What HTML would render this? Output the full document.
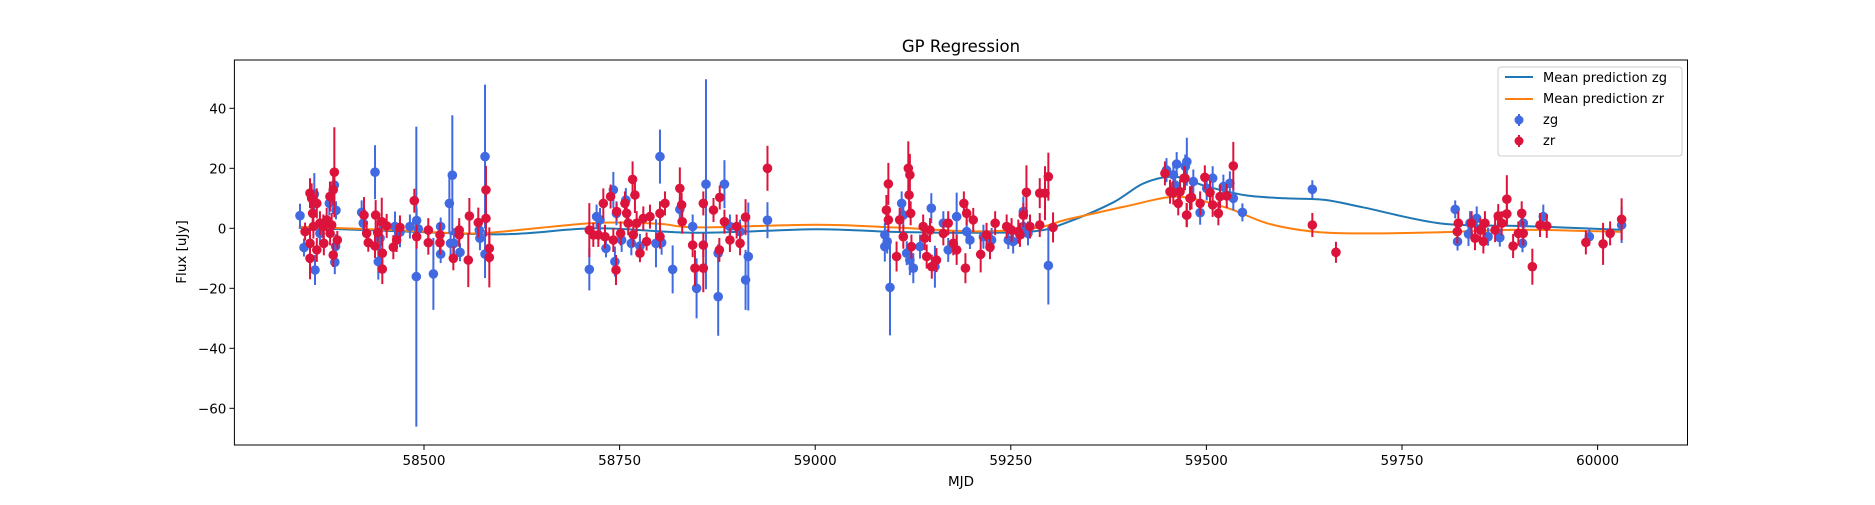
<!DOCTYPE html>
<html><head><meta charset="utf-8"><style>
body{margin:0;background:#fff}
svg text{font-family:"DejaVu Sans","Liberation Sans",sans-serif;fill:#000}
</style></head><body>
<svg id="chart" width="1875" height="500" viewBox="0 0 1875 500" xmlns="http://www.w3.org/2000/svg">
<rect width="1875" height="500" fill="#fff"/>
<text x="961" y="52" font-size="16.5" text-anchor="middle">GP Regression</text>
<g id="plot"></g>
<g id="axes"></g>
<text x="961" y="486" font-size="13.5" text-anchor="middle">MJD</text>
<text transform="translate(186,252) rotate(-90)" font-size="13.5" text-anchor="middle">Flux [uJy]</text>
<g>
<rect x="1498" y="67" width="184" height="89" rx="3" fill="#fff" fill-opacity="0.8" stroke="#ccc"/>
<line x1="1505" y1="77" x2="1533" y2="77" stroke="#1f77b4" stroke-width="2"/>
<text x="1543" y="82" font-size="13">Mean prediction zg</text>
<line x1="1505" y1="99" x2="1533" y2="99" stroke="#ff7f0e" stroke-width="2"/>
<text x="1543" y="103" font-size="13">Mean prediction zr</text>
<line x1="1519" y1="114" x2="1519" y2="126" stroke="#4169e1" stroke-width="2"/>
<circle cx="1519" cy="120" r="4.5" fill="#4169e1"/>
<text x="1543" y="124" font-size="13">zg</text>
<line x1="1519" y1="135" x2="1519" y2="147" stroke="#dc143c" stroke-width="2"/>
<circle cx="1519" cy="141" r="4.5" fill="#dc143c"/>
<text x="1543" y="145" font-size="13">zr</text>
</g>
</svg>
<script>
const xTicks = [58500, 58750, 59000, 59250, 59500, 59750, 60000];
const yTicks = [-60, -40, -20, 0, 20, 40];
const lineZgMjd = [58340,58450,58600,58720,58850,59000,59100,59200,59280,59320,59380,59420,59460,59500,59550,59600,59650,59700,59800,59900,60000,60030];
const lineZgFlux = [0.2,-0.8,-2,0,-1.5,-0.3,-1.2,-1.5,-1,1.8,8.5,15,17.2,14,11,10,9.5,7,1.6,0.8,-0.2,-0.5];
const lineZrMjd = [58340,58450,58550,58600,58720,58800,58850,59000,59100,59200,59280,59320,59400,59450,59480,59530,59580,59640,59700,59800,59900,60000,60030];
const lineZrFlux = [0.5,-0.5,-1.7,-1.1,1.8,1.5,0.3,1.2,0.3,-1,0,2.8,7.5,10.3,10,6.5,1.5,-1.2,-1.7,-1.3,-0.5,-1,-1.2];
const zgMjd = [58341.5,58346.6,58360.7,58359.8,58379,58385.4,58387.5,58386,58387,58367,58420.3,58422.4,58437.4,58441.6,58443.8,58462.9,58469.3,58482,58490.6,58490.2,58492.7,58512,58521.3,58521.3,58532.4,58536.2,58538.3,58546,58534,58570.7,58571.5,58578,58578,58711.3,58720.6,58725,58732.6,58742,58744,58746,58752.6,58758,58765,58776,58796.5,58801.6,58803.7,58817.8,58827,58843.4,58848.4,
58860.4,58876,58876,58884,58891,58904,58911,58914.5,58939,59089,59089,59092,59095.6,59110.5,59112.6,59117,59121,59125.4,59134,59148.4,59153,59163.8,59170,59180.8,59193.6,59197.8,59215,59225.5,59246.8,59253,59266,59272,59298,59266,
59449,59462,59475,59492,59457.8,59473,59460,59483.3,59500.4,59508,59521.7,59530,59534.4,59546,59635.4,59818,59821,59835,59837,59845.5,59860,59875,59905,59904,59930.6,59989.4,60030.7];
const zgFlux = [4.2,-6.4,-13.9,11.4,8.3,14.4,6,-11.3,-6,-1.7,5.3,1.7,18.7,-11.1,-3.3,0.6,-1.3,0.6,2.6,-16.1,-0.2,-15.2,0.6,-8.6,8.3,17.7,-5,-8,-5,-0.6,-3.3,23.9,-8.6,-13.7,3.9,2.8,-6.7,12.8,-11.1,5,-3.9,9.4,-5,-5.9,-5,23.9,-4.8,-13.7,6.3,0.6,-20,
14.7,-22.8,-8.3,14.7,0.6,-1.1,-17.2,-9.4,2.7,-2.2,-6.1,-4.4,-19.7,8.3,4.4,-8.3,-10.6,-13.3,-6.1,6.7,-12.8,1.7,-7.2,3.9,-1.1,-3.9,-2.8,-3.9,-3.9,-4.4,5.6,-1.7,-12.4,0.6,
19.4,21.4,22.2,5.2,17.8,20.6,14.4,15.6,13.3,16.7,13.9,15,10,5.3,13,6.3,-4.4,-1.9,1.7,3.3,-2.8,-3.1,1.7,-5,3.9,-2.8,1.1];
const zgErr = [4,3,5,7,4,5,3,4,4,4,4,4,9,6,5,5,5,4,4,50,4,12,3,3,10,20,5,3,4,3,4,24,8,7,4,4,3,6,5,4,4,4,4,4,8,9,4,8,4,4,10,
35,13,3,8,4,4,10,18,6,4,5,4,16,4,4,4,5,5,4,5,7,4,4,8,4,3,4,4,3,4,5,4,13,4,
4,4,8,4,4,4,4,4,4,4,4,4,4,3,3,3,3,4,4,4,3,3,3,3,4,3,6];
const zrMjd = [58348,58354.3,58356.4,58357.7,58354.3,58354.3,58358.6,58363,58363,58367,58371.3,58372,58375.6,58379.8,58384,58385.4,58384,58382,58389.2,58380,58423.3,58426.7,58428.8,58437.4,58438.2,58440.8,58446,58446.7,58446.7,58452.3,58460.8,58465,58469.3,58487.6,58490.6,58505.5,58505.5,58520.4,58520.4,58537.5,58545,58545,58556.6,58558,58569.4,58579.2,58579.2,58583.5,58583.5,
58711.3,58716.4,58722.8,58729.2,58731.3,58738.5,58742,58745.4,58746.2,58751.3,58756.8,58759,58761,58766.6,58767.4,58769.6,58771.8,58776,58780.3,58784.5,58788.8,58801.6,58801.6,58808,58827,58829.3,58830,58843.4,58846.3,
58857,58857,58857,58870,58878,58877.5,58884,58891,58899.6,58904,58911,58939,59093.5,59091,59093.5,59104,59108,59112.6,59119,59121,59120,59122,59123,59138,59140,59146.7,59142.5,59149,59155,59163.8,59170,59176.5,59180.8,59190,59192,59193.6,59202,59211.5,59219,59223.4,59230,59244.7,59251,59259.6,59261.7,59266,59270,59274.5,59287,59293.7,59298,59304,59287,
59447,59472.6,59457.7,59464,59474.7,59481,59498,59492,59453.5,59466.3,59471.4,59475,59479,59504.6,59508,59515.3,59517.4,59526,59534.4,59635.4,59665.6,59820.7,59822,59839,59843.3,59850,59854,59856,59869,59873,59877.4,59884,59884,59892,59898.7,59903,59905,59916.6,59926.4,59935,59985,60007,60016,60030.7];
const zrFlux = [-1.1,11.7,10,5,-5,-10,0.6,8.3,-7.2,1.7,0.6,-5,2.8,10.6,12.8,18.7,-8.9,1.1,-3.9,-1.7,4.4,-1.7,-4.8,-5.9,4.4,-1.4,2.2,-8.3,-13.6,0.8,-6.3,-3.9,0.3,9.2,-2.8,-0.6,-4.8,-2.2,-4.8,-10,-0.6,-2.2,-10.6,4.1,1.9,12.8,3.3,-6.7,-9.7,
-0.6,-2.2,-2.2,8.3,-2.8,10.6,-3.9,-13.9,5.6,-1.7,8.3,5,1.7,16.3,-2.2,11.1,1.7,-8.3,3.3,-4.4,3.9,5,-2.8,8.3,13.3,7.8,2.2,-5.6,-13.3,
8.3,-5.6,-13.3,6.1,10.3,-7.2,2.2,-3.9,0.6,-5,3.7,20,14.8,6.1,2.8,-9.4,2.8,-2.8,20,17.8,11.1,5,-6.1,0.6,-3.3,-0.6,-9.4,-12.8,-10.6,-1.7,1.7,-5,-7.2,8.3,-13.3,5,2.8,-8.7,-2.2,-6.3,1.7,0.6,-0.6,-1.1,-2.2,4.4,12,0.6,11.7,11.7,17.2,0.3,1.1,
18.3,16.7,11.9,8.3,4.4,10.3,17,8.3,12.2,12.2,16.7,4.4,10,11.9,7.8,5,10.6,10.8,20.8,1.1,-8,-1.1,1.7,1.7,-3.3,-0.6,-4.4,1.7,-0.6,4.1,1.7,9.7,4.8,-5.9,-1.7,5,-1.7,-12.8,1.1,0.8,-4.7,-5.2,-1.7,3];
const zrErr = [3,5,5,5,6,7,4,5,4,4,4,4,4,5,5,15,4,4,3,4,6,4,3,4,5,4,8,4,5,4,4,4,4,4,4,4,4,4,4,4,4,4,9,6,5,8,6,5,10,
9,4,4,5,4,4,4,5,3,4,4,4,4,6,4,6,4,3,4,3,4,4,4,4,7,4,4,4,6,
4,4,8,4,4,4,4,4,4,4,6,7.5,7,5,4,5,4,4,9,7,5,4,4,4,4,4,4,4,4,4,4,4,5,4,5,4,4,6,4,4,4,4,4,4,4,4,9,4,5,9,8,5,4,
4,4,4,4,4,4,4,4,4,4,4,4,4,4,4,4,4,4,8,4,3.5,4,4,4,4,4,4,4,4,4,4,8,4,4,4,4,4,6,4,4,4,7,4,7];

const L=234.4,R=1687.5,T=60,B=445;
const X = m => 424 + (m - 58500) * 0.7824;
const Y = v => 228.3 - v * 3;
const NS='http://www.w3.org/2000/svg';
function mk(tag, attrs, parent){const e=document.createElementNS(NS,tag);for(const k in attrs)e.setAttribute(k,attrs[k]);parent.appendChild(e);return e;}
const plot=document.getElementById('plot'), axes=document.getElementById('axes');
const defs=mk('defs',{},plot);
const cp=mk('clipPath',{id:'clip'},defs); mk('rect',{x:L,y:T,width:R-L,height:B-T},cp);
const g=mk('g',{'clip-path':'url(#clip)'},plot);

function smoothPath(pts){
  let d='M'+pts[0][0]+','+pts[0][1];
  for(let i=0;i<pts.length-1;i++){
    const p0=pts[Math.max(0,i-1)],p1=pts[i],p2=pts[i+1],p3=pts[Math.min(pts.length-1,i+2)];
    const c1x=p1[0]+(p2[0]-p0[0])/6,c1y=p1[1]+(p2[1]-p0[1])/6;
    const c2x=p2[0]-(p3[0]-p1[0])/6,c2y=p2[1]-(p3[1]-p1[1])/6;
    d+=' C'+c1x+','+c1y+' '+c2x+','+c2y+' '+p2[0]+','+p2[1];
  }
  return d;
}
function drawLine(ms, vs, color, name){
  const p=mk('path',{d:smoothPath(ms.map((m,i)=>[X(m),Y(vs[i])])),fill:'none',stroke:color,'stroke-width':2,'stroke-linejoin':'round'},g);
  
  
}
drawLine(lineZgMjd, lineZgFlux, '#1f77b4', 'mean-prediction-zg-line');
drawLine(lineZrMjd, lineZrFlux, '#ff7f0e', 'mean-prediction-zr-line');

function drawPoints(ms, vs, es, color, name){
  const grp=mk('g',{},g);
  
  
  ms.forEach((m,i)=>{
    const x=X(m);
    mk('line',{x1:x,x2:x,y1:Y(vs[i]+es[i]),y2:Y(vs[i]-es[i]),stroke:color,'stroke-width':2},grp);
    const c=mk('circle',{cx:x,cy:Y(vs[i]),r:4.8,fill:color},grp);
    
    
  });
}
drawPoints(zgMjd, zgFlux, zgErr, '#4169e1', 'zg-series');
drawPoints(zrMjd, zrFlux, zrErr, '#dc143c', 'zr-series');

const frame=mk('rect',{x:L,y:T,width:R-L,height:B-T,fill:'none',stroke:'#000','stroke-width':1},axes);


xTicks.forEach(t=>{
  const x=X(t);
  mk('line',{x1:x,x2:x,y1:B,y2:B+5,stroke:'#000'},axes);
  const tx=mk('text',{x:x,y:B+20,'font-size':13.5,'text-anchor':'middle'},axes);
  tx.textContent=t;
  
  
});
yTicks.forEach(t=>{
  const y=Y(t);
  mk('line',{x1:L-5,x2:L,y1:y,y2:y,stroke:'#000'},axes);
  const tx=mk('text',{x:L-8,y:y+5,'font-size':13.5,'text-anchor':'end'},axes);
  tx.textContent=t===0?'0':(t<0?'\u2212'+(-t):t);
  
  
});
</script>
</body></html>
